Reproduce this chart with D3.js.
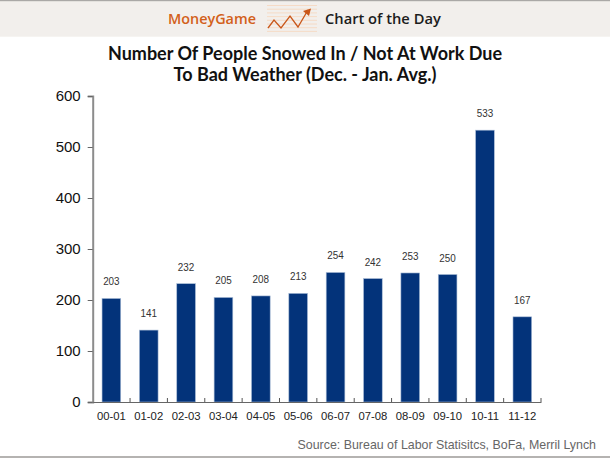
<!DOCTYPE html>
<html><head><meta charset="utf-8">
<script src="https://cdn.jsdelivr.net/npm/d3@7"></script>
<style>html,body{margin:0;padding:0;background:#fff}svg{display:block}</style>
</head><body><div id="c"></div>
<script>
const categories=["00-01","01-02","02-03","03-04","04-05","05-06","06-07","07-08","08-09","09-10","10-11","11-12"];
const values=[203,141,232,205,208,213,254,242,253,250,533,167];
const yTicks=[0,100,200,300,400,500,600];
const titleLines=["Number Of People Snowed In / Not At Work Due","To Bad Weather (Dec. - Jan. Avg.)"];
const logoPts=[[0,18],[6,10],[13,18],[22,6],[30,17],[40,0]];

const W=610,H=458;
const svg=d3.select("#c").append("svg").attr("width",W).attr("height",H);
svg.append("rect").attr("width",W).attr("height",H).attr("fill","#fff");
// header
svg.append("rect").attr("width",W).attr("height",36.7).attr("fill","#f2efec");
svg.append("rect").attr("width",W).attr("height",1.2).attr("fill","#aaa8a6");
svg.append("text").attr("x",168).attr("y",24).attr("font-family","'Open Sans',sans-serif").attr("font-weight",600).attr("font-size",14.4).attr("fill","#d2601a").text("MoneyGame");
svg.append("text").attr("x",325).attr("y",24).attr("font-family","'Open Sans',sans-serif").attr("font-weight",600).attr("font-size",14.7).attr("fill","#1c1c1c").text("Chart of the Day");
// logo
const logo=svg.append("g");
d3.range(8).forEach(i=>logo.append("line").attr("x1",267).attr("x2",317).attr("y1",5.5+i*3.7).attr("y2",5.5+i*3.7).attr("stroke","#f6d5bd").attr("stroke-width",.8));
const lx=d3.scaleLinear().domain([0,40]).range([268,308]);
const ly=d3.scaleLinear().domain([0,18]).range([10,28]);
logo.append("path").attr("d",d3.line().x(d=>lx(d[0])).y(d=>ly(d[1]))(logoPts)).attr("fill","none").attr("stroke","#c9571a").attr("stroke-width",1.3);
logo.append("path").attr("d","M311,8.5 L303,11 L309,16 Z").attr("fill","#c9571a");
// title
svg.append("g").selectAll("text").data(titleLines).join("text")
 .attr("x",305).attr("y",(d,i)=>59.5+i*21).attr("text-anchor","middle")
 .attr("font-family","Lato,sans-serif").attr("font-weight",700).attr("font-size",18).attr("fill","#111").text(d=>d);

const x=d3.scaleBand().domain(categories).range([92.7,541]).paddingInner(0.5).paddingOuter(0.25);
const y=d3.scaleLinear().domain([0,600]).range([402,96]);
const font="'Liberation Sans',Arial,sans-serif";
// bars
svg.append("g").selectAll("rect").data(values).join("rect")
 .attr("x",(d,i)=>x(categories[i])).attr("width",x.bandwidth()).attr("y",d=>y(d)).attr("height",d=>y(0)-y(d))
 .attr("fill","#03337a").attr("stroke","#a9bcd6").attr("stroke-width",.6);
// y axis
const ya=svg.append("g").attr("transform","translate(92.7,0)").call(d3.axisLeft(y).tickValues(yTicks).tickSize(5).tickPadding(7));
ya.select(".domain").attr("stroke","#8c8c8c").attr("stroke-width",2);
ya.selectAll(".tick line").attr("stroke","#666");
ya.selectAll("text").attr("font-family",font).attr("font-size",15).attr("fill","#111");
// x axis
const step=x.step();
const xa=svg.append("g").attr("transform","translate(0,402)").call(d3.axisBottom(x).tickSize(0).tickPadding(10));
xa.select(".domain").attr("stroke","#666").attr("stroke-width",1);
xa.selectAll("text").attr("font-family",font).attr("font-size",11.3).attr("fill","#222");
xa.selectAll(".sep").data(categories).join("line").attr("class","sep")
 .attr("x1",d=>x(d)+x.bandwidth()/2+step/2).attr("x2",d=>x(d)+x.bandwidth()/2+step/2).attr("y1",-4).attr("y2",0).attr("stroke","#555");
// value labels
svg.append("g").selectAll("text").data(values).join("text")
 .attr("x",(d,i)=>x(categories[i])+x.bandwidth()/2).attr("y",d=>y(d)-13).attr("text-anchor","middle")
 .attr("font-family",font).attr("font-size",11).attr("textLength",16.5).attr("lengthAdjust","spacingAndGlyphs").attr("fill","#333").text(d=>d);
// source
svg.append("text").attr("x",596).attr("y",449).attr("text-anchor","end").attr("font-family",font).attr("font-size",12.4).attr("fill","#666").text("Source: Bureau of Labor Statisitcs, BoFa, Merril Lynch");
svg.append("rect").attr("y",456).attr("width",W).attr("height",2).attr("fill","#b5b3b1");
</script></body></html>
